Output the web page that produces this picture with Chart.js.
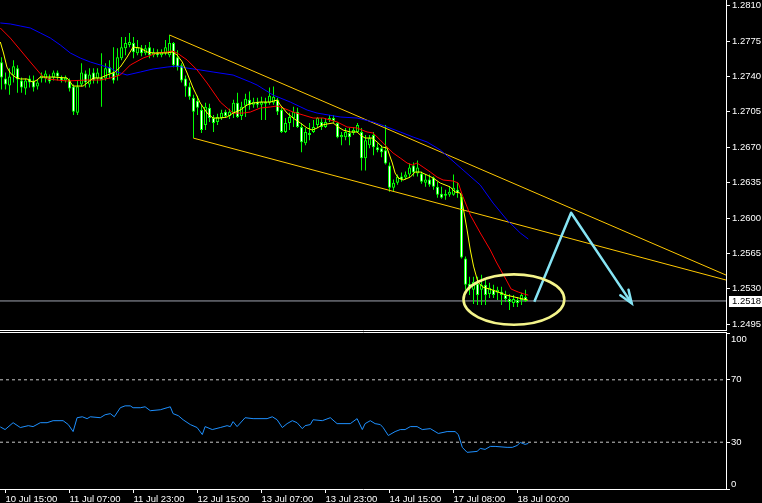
<!DOCTYPE html>
<html><head><meta charset="utf-8">
<script src="https://cdn.jsdelivr.net/npm/chart.js@4/dist/chart.umd.min.js"></script>
<style>
html,body{margin:0;padding:0;background:#000;}
#wrap{position:relative;width:762px;height:503px;background:#000;overflow:hidden;}
#cMain{position:absolute;left:0;top:0;width:762px;height:331px;}
#cRsi{position:absolute;left:0;top:331px;width:762px;height:172px;}
</style></head><body>
<div id="wrap">
<canvas id="cMain" width="762" height="331"></canvas>
<canvas id="cRsi" width="762" height="172"></canvas>
</div>
<script>
// ---------- DATA ----------
const barOpen = [
1.2754,1.2738,1.2731,1.2741,1.2748,1.2736,1.2728,1.2738,1.2736,1.2730,
1.2738,1.2738,1.2739,1.2739,1.2744,1.2739,1.2736,1.2736,1.2730,1.2704,
1.2732,1.2743,1.2732,1.2744,1.2738,1.2739,1.2738,1.2749,1.2744,1.2741,
1.2758,1.2768,1.2771,1.2773,1.2763,1.2768,1.2763,1.2769,1.2761,1.2764,
1.2761,1.2763,1.2761,1.2773,1.2759,1.2751,1.2738,1.2730,1.2719,1.2716,
1.2707,1.2692,1.2709,1.2699,1.2695,1.2699,1.2705,1.2701,1.2704,1.2714,
1.2701,1.2711,1.2717,1.2712,1.2715,1.2712,1.2715,1.2714,1.2714,1.2717,
1.2707,1.2685,1.2694,1.2699,1.2705,1.2690,1.2674,1.2684,1.2685,1.2692,
1.2695,1.2690,1.2697,1.2699,1.2694,1.2680,1.2680,1.2684,1.2684,1.2685,
1.2685,1.2659,1.2672,1.2682,1.2670,1.2669,1.2667,1.2652,1.2630,1.2635,
1.2641,1.2640,1.2643,1.2652,1.2644,1.2644,1.2635,1.2638,1.2640,1.2631,
1.2624,1.2622,1.2623,1.2623,1.2628,1.2621,1.2560,1.2535,1.2529,1.2535,
1.2529,1.2534,1.2525,1.2529,1.2526,1.2527,1.2524,1.2520,1.2516,1.2519,
1.2519,1.2522];
const barHigh = [
1.2759,1.2744,1.2748,1.2756,1.2751,1.2739,1.2738,1.2741,1.2741,1.2737,
1.2744,1.2746,1.2742,1.2746,1.2746,1.2741,1.2741,1.2738,1.2732,1.2736,
1.2753,1.2746,1.2748,1.2748,1.2748,1.2763,1.2753,1.2756,1.2769,1.2768,
1.2779,1.2779,1.2783,1.2779,1.2776,1.2771,1.2771,1.2774,1.2768,1.2767,
1.2767,1.2776,1.2781,1.2774,1.2766,1.2753,1.2741,1.2734,1.2722,1.2721,
1.2712,1.2714,1.2713,1.2702,1.2703,1.2707,1.2707,1.2708,1.2717,1.2724,
1.2715,1.2723,1.2725,1.2719,1.2719,1.2720,1.2719,1.2729,1.2730,1.2719,
1.2710,1.2699,1.2704,1.2710,1.2709,1.2694,1.2689,1.2694,1.2697,1.2700,
1.2699,1.2699,1.2702,1.2702,1.2695,1.2685,1.2689,1.2689,1.2690,1.2694,
1.2689,1.2682,1.2682,1.2685,1.2674,1.2672,1.2692,1.2655,1.2638,1.2643,
1.2645,1.2646,1.2654,1.2655,1.2657,1.2646,1.2643,1.2643,1.2641,1.2636,
1.2631,1.2628,1.2631,1.2643,1.2635,1.2624,1.2562,1.2542,1.2542,1.2542,
1.2544,1.2539,1.2536,1.2534,1.2532,1.2532,1.2528,1.2525,1.2524,1.2522,
1.2526,1.2529];
const barLow = [
1.2727,1.2727,1.2722,1.2734,1.2724,1.2724,1.2722,1.2729,1.2725,1.2727,
1.2734,1.2734,1.2733,1.2736,1.2736,1.2734,1.2734,1.2725,1.2702,1.2702,
1.2730,1.2729,1.2729,1.2733,1.2733,1.2710,1.2736,1.2738,1.2733,1.2736,
1.2756,1.2761,1.2769,1.2758,1.2761,1.2760,1.2761,1.2758,1.2759,1.2759,
1.2759,1.2761,1.2759,1.2749,1.2746,1.2734,1.2720,1.2717,1.2679,1.2702,
1.2684,1.2687,1.2695,1.2685,1.2692,1.2697,1.2699,1.2698,1.2699,1.2699,
1.2697,1.2700,1.2707,1.2709,1.2709,1.2697,1.2697,1.2712,1.2712,1.2702,
1.2684,1.2684,1.2687,1.2690,1.2689,1.2665,1.2672,1.2677,1.2684,1.2689,
1.2687,1.2689,1.2695,1.2694,1.2679,1.2672,1.2677,1.2672,1.2682,1.2684,
1.2647,1.2647,1.2669,1.2662,1.2665,1.2660,1.2653,1.2626,1.2626,1.2633,
1.2636,1.2638,1.2640,1.2641,1.2641,1.2634,1.2631,1.2631,1.2628,1.2620,
1.2619,1.2618,1.2621,1.2622,1.2620,1.2560,1.2529,1.2524,1.2515,1.2514,
1.2514,1.2514,1.2521,1.2521,1.2519,1.2514,1.2517,1.2509,1.2512,1.2512,
1.2514,1.2517];
const barClose = [
1.2739,1.2732,1.2740,1.2750,1.2737,1.2729,1.2736,1.2734,1.2729,1.2734,
1.2741,1.2743,1.2735,1.2744,1.2740,1.2736,1.2739,1.2728,1.2705,1.2730,
1.2744,1.2734,1.2742,1.2736,1.2744,1.2736,1.2748,1.2743,1.2736,1.2759,
1.2769,1.2773,1.2774,1.2764,1.2769,1.2763,1.2768,1.2761,1.2764,1.2761,
1.2764,1.2769,1.2773,1.2751,1.2749,1.2736,1.2730,1.2720,1.2705,1.2709,
1.2687,1.2710,1.2699,1.2694,1.2700,1.2704,1.2701,1.2705,1.2714,1.2700,
1.2710,1.2718,1.2712,1.2715,1.2712,1.2715,1.2713,1.2721,1.2720,1.2705,
1.2685,1.2694,1.2700,1.2705,1.2690,1.2675,1.2685,1.2682,1.2690,1.2699,
1.2690,1.2695,1.2699,1.2696,1.2680,1.2682,1.2685,1.2680,1.2687,1.2692,
1.2659,1.2677,1.2679,1.2670,1.2667,1.2665,1.2654,1.2630,1.2635,1.2641,
1.2638,1.2643,1.2650,1.2645,1.2650,1.2636,1.2638,1.2633,1.2631,1.2623,
1.2620,1.2624,1.2626,1.2630,1.2625,1.2561,1.2534,1.2531,1.2537,1.2524,
1.2534,1.2524,1.2531,1.2524,1.2529,1.2524,1.2520,1.2517,1.2520,1.2516,
1.2524,1.2518];

// moving averages (bar index, price)
const yellowIdx = [-0.3,0.5,1.35,2.2,3.4,4.7,6.4,7.2,7.9,8.9,9.7,12.9,16.4,17.2,17.9,20.4,21.7,22.9,24.7,26.4,28.4,29.7,31.4,32.9,34.7,36.4,37.9,39.7,41.4,42.7,43.9,45.2,46.4,47.9,49.7,51.4,52.9,54.7,56.4,57.9,59.7,61.4,62.9,64.7,67.2,68.9,69.7,71.4,72.9,74.7,76.4,77.7,78.9,80.2,81.4,82.9,84.2,85.4,87.2,88.9,89.7,90.9,92.7,93.9,95.2,96.4,97.7,98.4,99.2,100.4,102.2,103.4,104.7,106.4,107.9,109.7,112.2,113.4,114.7,115.4,116.4,117.2,118.0,119.1,120.3,122.8,126.2,130.4,131.6];
const yellowVal = [1.27741,1.27632,1.27493,1.27434,1.27394,1.27375,1.27375,1.27355,1.27345,1.27365,1.27394,1.27394,1.27385,1.27345,1.27305,1.27305,1.27345,1.27385,1.27385,1.27414,1.27444,1.27493,1.27592,1.27691,1.27681,1.27642,1.27632,1.27632,1.27632,1.27642,1.27612,1.27543,1.27434,1.27286,1.27137,1.27038,1.26989,1.26989,1.26999,1.27038,1.27068,1.27118,1.27137,1.27147,1.27147,1.27167,1.27118,1.27038,1.26989,1.26940,1.26890,1.26870,1.26890,1.26920,1.26930,1.26940,1.26900,1.26870,1.26851,1.26851,1.26821,1.26791,1.26791,1.26752,1.26702,1.26692,1.26544,1.26445,1.26396,1.26376,1.26405,1.26455,1.26455,1.26425,1.26396,1.26346,1.26307,1.26257,1.26247,1.26109,1.25881,1.25684,1.25525,1.25367,1.25318,1.25288,1.25238,1.25199,1.25189];
const redIdx = [-0.3,2.2,4.7,7.2,8.9,10.2,11.4,16.4,21.4,24.7,27.2,29.7,32.2,35.4,38.9,41.4,42.7,43.9,46.4,48.9,51.4,54.7,56.4,57.9,60.4,62.2,64.7,67.2,68.9,70.4,72.9,75.4,77.9,80.4,83.9,86.4,88.9,91.4,92.9,94.7,96.4,97.9,99.7,101.4,102.7,103.9,105.4,107.2,108.9,110.4,112.9,114.2,115.2,117.2,119.7,122.2,123.7,126.2,127.4,129.2,130.7,131.7];
const redVal = [1.27879,1.27780,1.27662,1.27543,1.27464,1.27404,1.27375,1.27355,1.27365,1.27365,1.27385,1.27414,1.27513,1.27582,1.27632,1.27642,1.27652,1.27632,1.27563,1.27464,1.27335,1.27147,1.27088,1.27038,1.27038,1.27048,1.27088,1.27098,1.27108,1.27088,1.27048,1.27019,1.26989,1.26989,1.26950,1.26900,1.26890,1.26851,1.26841,1.26771,1.26702,1.26643,1.26593,1.26544,1.26524,1.26544,1.26504,1.26455,1.26405,1.26376,1.26366,1.26346,1.26227,1.26030,1.25852,1.25684,1.25565,1.25387,1.25298,1.25268,1.25248,1.25238];
const blueIdx = [-0.3,2.2,4.7,7.2,9.7,12.2,14.7,17.2,19.7,22.2,24.7,27.2,28.9,31.4,34.7,37.9,41.4,43.9,46.4,49.7,52.9,57.9,62.2,63.9,67.9,72.2,76.4,78.9,84.7,88.9,92.9,96.4,99.7,102.9,106.4,109.7,115.4,119.7,122.9,126.4,129.7,131.7];
const blueVal = [1.27929,1.27919,1.27899,1.27879,1.27830,1.27780,1.27711,1.27632,1.27582,1.27543,1.27513,1.27483,1.27444,1.27414,1.27444,1.27474,1.27493,1.27503,1.27483,1.27464,1.27444,1.27414,1.27345,1.27315,1.27216,1.27147,1.27068,1.27038,1.26999,1.26989,1.26950,1.26900,1.26851,1.26801,1.26752,1.26673,1.26475,1.26326,1.26148,1.25980,1.25852,1.25792];

// RSI (bar index, value)
const rsiIdx = [-0.3,0.9,2.9,4.7,6.7,7.9,9.7,11.4,12.9,15.4,16.7,17.9,18.9,20.2,21.4,22.2,24.7,25.9,27.2,28.2,29.7,30.9,32.2,32.9,34.7,35.9,37.2,39.7,41.4,42.2,42.9,44.2,45.4,47.2,48.9,50.2,50.9,52.7,54.7,56.4,57.2,57.9,58.9,60.9,62.9,66.4,67.7,68.9,70.2,71.4,72.7,73.9,75.2,75.9,77.2,77.9,80.2,82.2,83.9,87.2,88.9,90.2,90.9,92.2,93.4,94.7,95.4,96.7,98.4,99.7,100.9,102.2,103.9,105.2,107.2,109.2,111.4,113.4,114.2,115.2,116.4,118.9,119.7,120.9,122.2,123.4,126.4,127.7,128.9,129.7,130.9,131.7];
const rsiVal = [39.8,38.1,42.5,39.4,40.6,40.0,42.5,42.5,43.8,43.8,41.3,36.8,45.7,46.3,45.1,46.3,45.7,47.6,48.3,46.3,52.1,53.3,53.3,52.1,52.1,52.7,50.2,50.8,52.1,52.7,48.3,47.0,44.4,41.3,39.4,34.9,40.0,38.1,39.4,40.6,40.0,43.2,40.0,45.7,45.1,45.1,46.3,44.4,39.4,41.9,43.8,42.5,38.7,40.6,41.3,44.4,43.8,45.7,41.9,41.9,45.1,38.1,41.9,43.8,41.9,41.3,39.4,34.3,36.8,38.1,38.1,40.0,40.0,38.1,38.7,35.6,36.8,36.8,34.9,26.7,23.5,24.1,26.0,25.4,27.3,27.3,26.7,26.7,27.9,29.8,28.6,29.2];
const rsiLevels = [30, 70];
const rsiTicks = [0, 30, 70, 100];

// drawn objects (bar index, price)
const upperIdx = [42, 181.125], upperVal = [1.2781, 1.25436];
const lowerIdx = [48, 181.125], lowerVal = [1.2679, 1.25387];
const arrowIdx = [133.2, 142.4, 157.55], arrowVal = [1.25172, 1.26052, 1.25156];
const ellipseIdx = 128.1, ellipsePrice = 1.25194, ellipseBars = 12.6, ellipseSpan = 0.00249;
const lastPrice = 1.2518;

const priceTicks = [1.2495,1.2530,1.2565,1.2600,1.2635,1.2670,1.2705,1.2740,1.2775,1.2810];
const timeTickIdx = [1,17,33,49,65,81,97,113,129];
const timeTickLabels = ["10 Jul 15:00","11 Jul 07:00","11 Jul 23:00","12 Jul 15:00","13 Jul 07:00","13 Jul 23:00","14 Jul 15:00","17 Jul 08:00","18 Jul 00:00"];

// ---------- CHARTS ----------
const FONT = "'Liberation Sans Narrow','Liberation Sans',Arial,sans-serif";
const FSIZE = 9.5;
Chart.defaults.font.family = FONT;
Chart.defaults.font.size = FSIZE;
Chart.defaults.color = '#ffffff';
Chart.defaults.animation = false;

const X_MIN = -0.375, X_MAX = 181.125;
const P_MIN = 1.24883, P_MAX = 1.28156;
const LIME = '#00ff00';
const idx = barOpen.map((_, i) => i);
const xy = (xs, ys) => xs.map((x, i) => ({x, y: ys[i]}));
const lineDs = (xs, ys, color, order, extra) => Object.assign({
  type: 'line', data: xy(xs, ys), borderColor: color, borderWidth: 1,
  pointRadius: 0, fill: false, tension: 0, order
}, extra || {});

const mainDecor = {
  id: 'mainDecor',
  afterDatasetsDraw(chart) {
    const {ctx, scales: {x, y}} = chart;
    ctx.save();
    const cx = x.getPixelForValue(ellipseIdx), cy = y.getPixelForValue(ellipsePrice);
    const rx = Math.abs(x.getPixelForValue(ellipseIdx + ellipseBars) - cx);
    const ry = Math.abs(y.getPixelForValue(ellipsePrice + ellipseSpan) - cy);
    ctx.strokeStyle = '#f4f48a'; ctx.lineWidth = 2.6;
    ctx.beginPath(); ctx.ellipse(cx, cy, rx, ry, 0, 0, Math.PI * 2); ctx.stroke();
    // arrow head
    const n = arrowIdx.length;
    const tx = x.getPixelForValue(arrowIdx[n - 1]), ty = y.getPixelForValue(arrowVal[n - 1]);
    const px = x.getPixelForValue(arrowIdx[n - 2]), py = y.getPixelForValue(arrowVal[n - 2]);
    const ang = Math.atan2(ty - py, tx - px);
    ctx.strokeStyle = '#86e4f4'; ctx.lineWidth = 2.5; ctx.lineCap = 'round';
    ctx.beginPath();
    ctx.moveTo(tx + 14 * Math.cos(ang + Math.PI - 0.36), ty + 14 * Math.sin(ang + Math.PI - 0.36));
    ctx.lineTo(tx, ty);
    ctx.lineTo(tx + 14 * Math.cos(ang + Math.PI + 0.36), ty + 14 * Math.sin(ang + Math.PI + 0.36));
    ctx.stroke();
    ctx.restore();
  },
  afterDraw(chart) {
    const {ctx, chartArea: a, scales: {y}} = chart;
    ctx.save();
    ctx.strokeStyle = '#ffffff'; ctx.lineWidth = 1;
    ctx.beginPath(); ctx.moveTo(0, a.bottom - 0.5); ctx.lineTo(a.right + 1, a.bottom - 0.5); ctx.stroke();
    const py = Math.round(y.getPixelForValue(lastPrice));
    ctx.fillStyle = '#ffffff';
    ctx.fillRect(a.right + 3, py - 5, chart.width - a.right - 3, 11);
    ctx.fillStyle = '#000000'; ctx.font = FSIZE + 'px ' + FONT;
    ctx.textAlign = 'left'; ctx.textBaseline = 'middle';
    ctx.fillText(lastPrice.toFixed(4), a.right + 6, py + 0.5);
    ctx.restore();
  }
};

new Chart(document.getElementById('cMain'), {
  type: 'bar',
  data: {
    datasets: [
      lineDs(arrowIdx, arrowVal, '#86e4f4', 0, {borderWidth: 2.5, borderJoinStyle: 'round'}),
      lineDs(yellowIdx, yellowVal, '#ffff00', 1),
      lineDs(redIdx, redVal, '#ff0000', 2),
      lineDs(blueIdx, blueVal, '#0000ff', 3),
      lineDs(upperIdx, upperVal, '#ffc800', 4),
      lineDs(lowerIdx, lowerVal, '#ffc800', 4),
      {type: 'bar', data: idx.map(i => ({x: i, y: [barOpen[i], barClose[i]]})),
       backgroundColor: idx.map(i => barClose[i] > barOpen[i] ? '#000000' : '#ffffff'),
       borderColor: LIME, borderWidth: 1, borderSkipped: false, barThickness: 3,
       grouped: false, inflateAmount: 0, order: 5},
      {type: 'bar', data: idx.map(i => ({x: i, y: [barLow[i], barHigh[i]]})),
       backgroundColor: LIME, borderWidth: 0, barThickness: 1,
       grouped: false, inflateAmount: 0, order: 6},
      lineDs([X_MIN, X_MAX], [lastPrice, lastPrice], '#a0a4b0', 7)
    ]
  },
  options: {
    responsive: false, animation: false, devicePixelRatio: 1, events: [],
    layout: {padding: 0, autoPadding: false},
    plugins: {legend: {display: false}, tooltip: {enabled: false}},
    scales: {
      x: {type: 'linear', min: X_MIN, max: X_MAX, display: false, offset: false, bounds: 'data', grid: {offset: false}},
      y: {type: 'linear', position: 'right', min: P_MIN, max: P_MAX, bounds: 'data', beginAtZero: false,
          afterBuildTicks: s => { s.ticks = priceTicks.map(v => ({value: v})); },
          afterFit: s => { s.width = 36; s.paddingTop = 0; s.paddingBottom = 0; },
          ticks: {color: '#ffffff', padding: 2, font: {size: FSIZE, family: FONT}, callback: v => Number(v).toFixed(4)},
          grid: {drawOnChartArea: false, drawTicks: true, tickLength: 4, color: '#ffffff'},
          border: {display: true, color: '#ffffff', width: 1}}
    }
  },
  plugins: [mainDecor]
});

const rsiDecor = {
  id: 'rsiDecor',
  afterDraw(chart) {
    const {ctx, chartArea: a, scales: {y}} = chart;
    ctx.save();
    ctx.strokeStyle = '#ffffff'; ctx.lineWidth = 1;
    ctx.beginPath(); ctx.moveTo(0, a.top - 0.5); ctx.lineTo(a.right + 1, a.top - 0.5); ctx.stroke();
    ctx.fillStyle = '#ffffff'; ctx.font = FSIZE + 'px ' + FONT;
    ctx.textAlign = 'left'; ctx.textBaseline = 'middle';
    rsiTicks.forEach(v => {
      let py = y.getPixelForValue(v);
      py = Math.min(Math.max(py, a.top + 6), a.bottom - 5);
      ctx.fillText(String(v), a.right + 5, py);
    });
    ctx.restore();
  }
};

new Chart(document.getElementById('cRsi'), {
  type: 'line',
  data: {
    datasets: [
      lineDs(rsiIdx, rsiVal, '#1e90ff', 0),
      lineDs([X_MIN, X_MAX], [rsiLevels[0], rsiLevels[0]], '#c8c8c8', 1, {borderDash: [3, 3]}),
      lineDs([X_MIN, X_MAX], [rsiLevels[1], rsiLevels[1]], '#c8c8c8', 1, {borderDash: [3, 3]})
    ]
  },
  options: {
    responsive: false, animation: false, devicePixelRatio: 1, events: [],
    layout: {padding: {top: 2, left: 0, right: 0, bottom: 0}, autoPadding: false},
    plugins: {legend: {display: false}, tooltip: {enabled: false}},
    scales: {
      x: {type: 'linear', min: X_MIN, max: X_MAX, offset: false, bounds: 'data',
          afterBuildTicks: s => { s.ticks = timeTickIdx.map(v => ({value: v})); },
          afterFit: s => { s.height = 14; s.paddingLeft = 0; s.paddingRight = 0; },
          ticks: {color: '#ffffff', font: {size: FSIZE, family: FONT}, padding: 1, align: 'start',
                  maxRotation: 0, minRotation: 0, autoSkip: false,
                  callback: (v, i) => timeTickLabels[i]},
          grid: {drawOnChartArea: false, drawTicks: true, tickLength: 4, color: '#ffffff'},
          border: {display: true, color: '#ffffff', width: 1}},
      y: {type: 'linear', position: 'right', min: 0, max: 100, bounds: 'data',
          afterBuildTicks: s => { s.ticks = rsiTicks.map(v => ({value: v})); },
          afterFit: s => { s.width = 36; s.paddingTop = 0; s.paddingBottom = 0; },
          ticks: {display: false},
          grid: {drawOnChartArea: false, drawTicks: true, tickLength: 4, color: '#ffffff'},
          border: {display: true, color: '#ffffff', width: 1}}
    }
  },
  plugins: [rsiDecor]
});
</script>
</body></html>
